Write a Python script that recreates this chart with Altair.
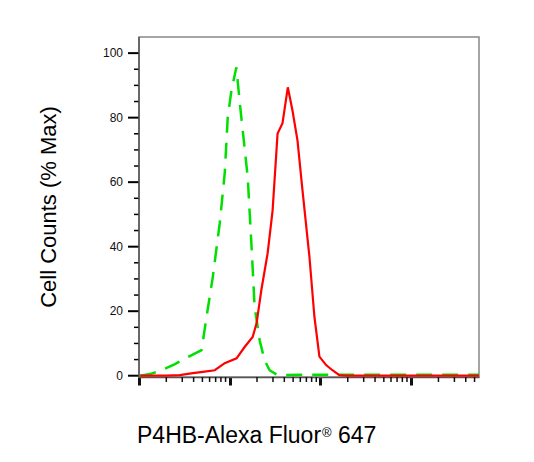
import altair as alt
import pandas as pd

# Isotype control (green dashed)
iso_x = [1.03, 1.32, 1.79, 2.49, 3.63, 4.89, 5.55, 6.50, 7.76, 8.81, 9.51, 10.44, 11.84,
         13.0, 15.8, 17.5, 18.8, 21.4, 24.2, 27.5, 33.7, 60, 200, 1000, 5600]
iso_y = [0, 0.5, 1.7, 3.6, 6.1, 7.9, 18.2, 30.5, 47.2, 62.7, 80, 88.4, 95.6,
         83.8, 61.5, 38.9, 21.5, 11, 4.8, 1.7, 0.2, 0.3, 0.3, 0.3, 0.3]

# P4HB-Alexa Fluor 647 sample (red solid)
smp_x = [1.03, 2.02, 2.82, 3.92, 5.05, 6.84, 8.81, 11.9, 14.6, 17.9, 19.8, 22.3, 26.2,
         29.7, 33.7, 38.2, 43.7, 49.2, 55.9, 63.4, 75.7, 85.9, 97.5, 115.6, 135.5,
         161.8, 191, 5600]
smp_y = [0, 0, 0.2, 0.8, 1.2, 1.7, 3.9, 5.4, 8.9, 12, 16.3, 26.5, 38,
         51.2, 75.1, 78.3, 89.4, 82.2, 72.9, 57.5, 36.8, 18.2, 5.9, 3.3, 1.7,
         0.2, 0, 0]

x_major = [1, 10, 100, 1000]
x_minor = [m * 10 ** e for e in range(0, 4) for m in range(2, 10) if m * 10 ** e <= 5600]
y_major = [0, 20, 40, 60, 80, 100]
y_minor = [v for v in range(0, 101, 5) if v % 20 != 0]

iso = pd.DataFrame({"x": iso_x, "y": iso_y})
smp = pd.DataFrame({"x": smp_x, "y": smp_y})

xscale = alt.Scale(type="log", domain=[1, 5600], nice=False)
yscale = alt.Scale(domain=[-0.4, 105], nice=False, zero=False)

xaxis = alt.Axis(
    orient="bottom", values=x_major, labels=False, title=None, grid=False,
    domainColor="#555555", domainWidth=1.5,
    tickColor="#111111", tickSize=8, tickWidth=3,
)

green = alt.Chart(iso).mark_line(
    color="#00e000", strokeWidth=2.5, strokeDash=[16, 10], clip=True
).encode(
    x=alt.X("x:Q", scale=xscale, axis=xaxis),
    y=alt.Y("y:Q", scale=yscale, axis=None),
)

red = alt.Chart(smp).mark_line(color="#ff0000", strokeWidth=2.2, clip=True).encode(
    x=alt.X("x:Q", scale=xscale, axis=xaxis),
    y=alt.Y("y:Q", scale=yscale, axis=None),
)

# y-axis tick marks and labels, placed through the y scale
ytick_major = alt.Chart(pd.DataFrame({"v": y_major})).mark_rule(
    color="#000000", strokeWidth=2
).encode(y=alt.Y("v:Q", scale=yscale, axis=None), x=alt.value(-11), x2=alt.value(0))
ytick_minor = alt.Chart(pd.DataFrame({"v": y_minor})).mark_rule(
    color="#000000", strokeWidth=1.5
).encode(y=alt.Y("v:Q", scale=yscale, axis=None), x=alt.value(-5), x2=alt.value(0))
ylabels = alt.Chart(pd.DataFrame({"v": y_major})).mark_text(
    align="right", baseline="middle", font="Liberation Sans", fontSize=12, color="#111111"
).encode(y=alt.Y("v:Q", scale=yscale, axis=None), x=alt.value(-16), text="v:Q")
# left axis line
yline = alt.Chart(pd.DataFrame({"v": [-0.4, 105]})).mark_rule(
    color="#555555", strokeWidth=1.5
).encode(x=alt.value(0), y=alt.Y("min(v):Q", scale=yscale, axis=None), y2="max(v):Q")

# x-axis minor tick marks, placed through the x scale
xtick_minor = alt.Chart(pd.DataFrame({"v": x_minor})).mark_rule(
    color="#111111", strokeWidth=1.5
).encode(x=alt.X("v:Q", scale=xscale, axis=xaxis), y=alt.value(340), y2=alt.value(345))

t_font = "Liberation Sans"
ytitle = alt.Chart(pd.DataFrame({"t": ["Cell Counts (% Max)"]})).mark_text(
    align="center", baseline="middle", font=t_font, fontSize=22, color="#000000", angle=270
).encode(x=alt.value(-90), y=alt.value(170), text="t:N")
title1 = alt.Chart(pd.DataFrame({"t": ["P4HB-Alexa Fluor"]})).mark_text(
    align="left", baseline="alphabetic", font=t_font, fontSize=23, color="#000000"
).encode(x=alt.value(-2), y=alt.value(406), text="t:N")
title2 = alt.Chart(pd.DataFrame({"t": ["®"]})).mark_text(
    align="left", baseline="alphabetic", font=t_font, fontSize=13, color="#000000"
).encode(x=alt.value(183), y=alt.value(400), text="t:N")
title3 = alt.Chart(pd.DataFrame({"t": ["647"]})).mark_text(
    align="left", baseline="alphabetic", font=t_font, fontSize=23, color="#000000"
).encode(x=alt.value(199), y=alt.value(406), text="t:N")

chart = alt.layer(
    green, red, ytick_major, ytick_minor, ylabels, yline, xtick_minor,
    ytitle, title1, title2, title3
).properties(
    width=340, height=340,
    autosize=alt.AutoSizeParams(type="none"),
    padding={"left": 131, "top": 29, "right": 47, "bottom": 77},
).configure_view(stroke="#888888", strokeWidth=1.5)

chart.save("out.html", embed_options={"renderer": "svg", "actions": False})
